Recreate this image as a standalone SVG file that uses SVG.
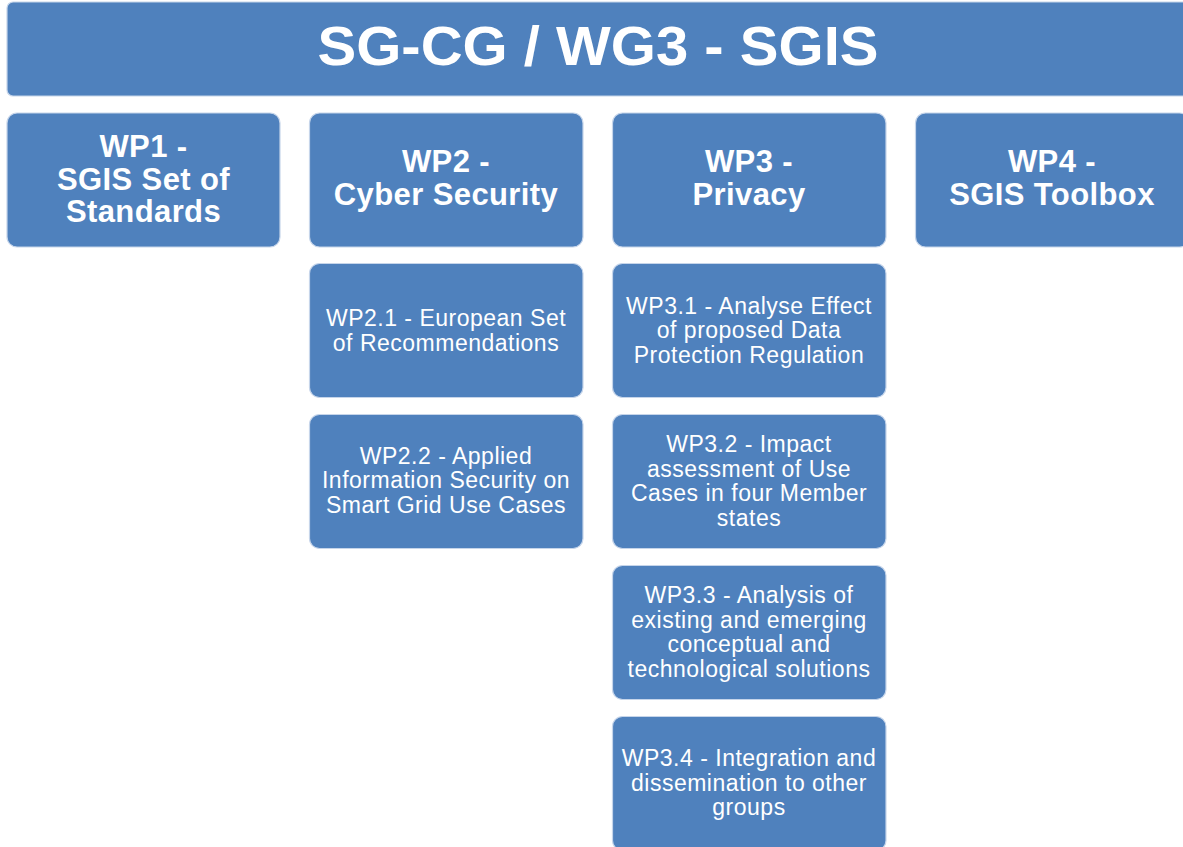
<svg xmlns="http://www.w3.org/2000/svg" width="1183" height="847" viewBox="0 0 1183 847">
<style>
.box{fill:#4F81BD;stroke:#C6D5EA;stroke-width:1.2}
.t{font-family:"Liberation Sans",Arial,sans-serif;fill:#fff;text-anchor:middle}
.h{font-size:31px;font-weight:bold;letter-spacing:0.4px}
.n{font-size:23px;letter-spacing:0.5px}
.title{font-size:56px;font-weight:bold}
</style>
<rect x="0" y="0" width="1183" height="847" fill="#fff"/>
<g id="header">
<rect class="box" x="7" y="2" width="1190" height="94" rx="6"/>
<text class="t title" x="598" y="65" textLength="561" lengthAdjust="spacingAndGlyphs">SG-CG / WG3 - SGIS</text>
</g>
<g id="wp1">
<rect class="box" x="7" y="113" width="273" height="134" rx="10"/>
<text class="t h" x="143.5" y="157">WP1 -</text>
<text class="t h" x="143.5" y="189.5">SGIS Set of</text>
<text class="t h" x="143.5" y="222">Standards</text>
</g>
<g id="wp2">
<rect class="box" x="309.5" y="113" width="273.5" height="134" rx="10"/>
<text class="t h" x="446" y="172">WP2 -</text>
<text class="t h" x="446" y="204.5">Cyber Security</text>
</g>
<g id="wp3">
<rect class="box" x="612.5" y="113" width="273.5" height="134" rx="10"/>
<text class="t h" x="749" y="172">WP3 -</text>
<text class="t h" x="749" y="204.5">Privacy</text>
</g>
<g id="wp4">
<rect class="box" x="915.5" y="113" width="274" height="134" rx="10"/>
<text class="t h" x="1052" y="172">WP4 -</text>
<text class="t h" x="1052" y="204.5">SGIS Toolbox</text>
</g>
<g id="wp2_1">
<rect class="box" x="309.5" y="263.5" width="273.5" height="134" rx="10"/>
<text class="t n" x="446" y="326">WP2.1 - European Set</text>
<text class="t n" x="446" y="350.5">of Recommendations</text>
</g>
<g id="wp2_2">
<rect class="box" x="309.5" y="414.5" width="273.5" height="134" rx="10"/>
<text class="t n" x="446" y="463.5">WP2.2 - Applied</text>
<text class="t n" x="446" y="488">Information Security on</text>
<text class="t n" x="446" y="512.5">Smart Grid Use Cases</text>
</g>
<g id="wp3_1">
<rect class="box" x="612.5" y="263.5" width="273.5" height="134" rx="10"/>
<text class="t n" x="749" y="313.5">WP3.1 - Analyse Effect</text>
<text class="t n" x="749" y="338">of proposed Data</text>
<text class="t n" x="749" y="362.5">Protection Regulation</text>
</g>
<g id="wp3_2">
<rect class="box" x="612.5" y="414.5" width="273.5" height="134" rx="10"/>
<text class="t n" x="749" y="452">WP3.2 - Impact</text>
<text class="t n" x="749" y="476.5">assessment of Use</text>
<text class="t n" x="749" y="501">Cases in four Member</text>
<text class="t n" x="749" y="525.5">states</text>
</g>
<g id="wp3_3">
<rect class="box" x="612.5" y="565.5" width="273.5" height="134" rx="10"/>
<text class="t n" x="749" y="603">WP3.3 - Analysis of</text>
<text class="t n" x="749" y="627.5">existing and emerging</text>
<text class="t n" x="749" y="652">conceptual and</text>
<text class="t n" x="749" y="676.5">technological solutions</text>
</g>
<g id="wp3_4">
<rect class="box" x="612.5" y="716.5" width="273.5" height="134" rx="10"/>
<text class="t n" x="749" y="766">WP3.4 - Integration and</text>
<text class="t n" x="749" y="790.5">dissemination to other</text>
<text class="t n" x="749" y="815">groups</text>
</g>
<g id="connectors"></g>
</svg>
